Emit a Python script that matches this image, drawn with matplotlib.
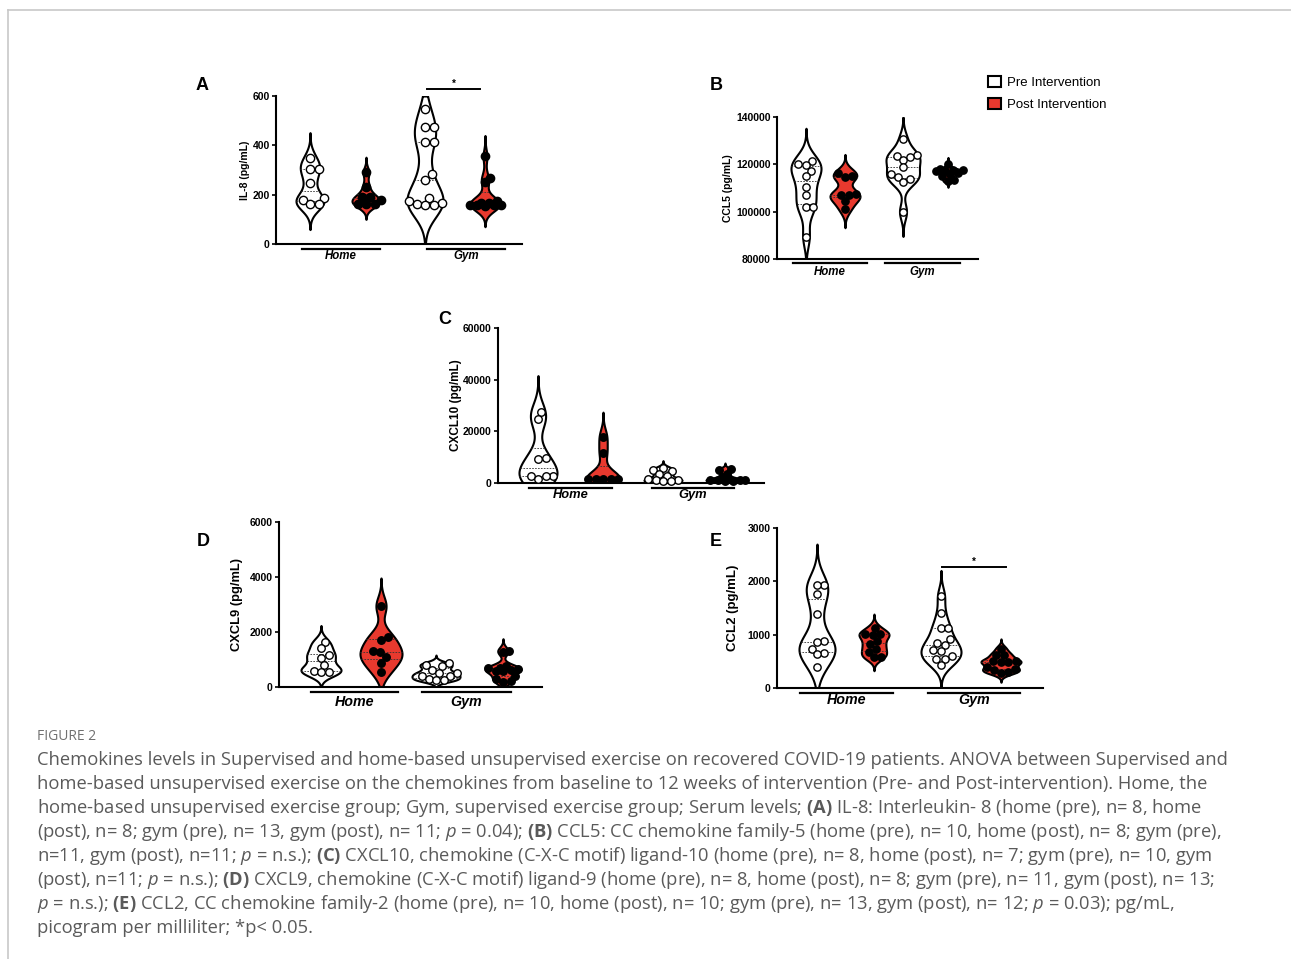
import numpy as np
import matplotlib.pyplot as plt
import matplotlib.transforms as mtransforms
from matplotlib.patches import Patch
from matplotlib.lines import Line2D

plt.rcParams['font.family'] = ['Liberation Sans', 'DejaVu Sans']
plt.rcParams['mathtext.fontset'] = 'custom'
plt.rcParams['mathtext.rm'] = 'Open Sans'
plt.rcParams['mathtext.it'] = 'Open Sans:italic'
plt.rcParams['mathtext.bf'] = 'Open Sans:bold'

W, H = 1291, 959
RED = '#e8392e'

groups = ['Home', 'Gym']
conditions = ['Pre Intervention', 'Post Intervention']

# A: IL-8 (pg/mL)
il8_home_pre = [348, 305, 305, 248, 185, 179, 162, 162]
il8_home_post = [290, 233, 192, 190, 180, 162, 162, 162]
il8_gym_pre = [546, 474, 474, 413, 413, 282, 260, 187, 173, 165, 162, 160, 160]
il8_gym_post = [355, 267, 250, 175, 165, 165, 160, 160, 160, 158, 155]
il8_ticks = [0, 200, 400, 600]

# B: CCL5 (pg/mL)
ccl5_home_pre = [121500, 120000, 119900, 117300, 115000, 110500, 107000, 101900, 101900, 89500]
ccl5_home_post = [116400, 115000, 114800, 107500, 107000, 107000, 104300, 101000]
ccl5_gym_pre = [130500, 123900, 123700, 122900, 122000, 118700, 115900, 114800, 114000, 112700, 100000]
ccl5_gym_post = [120200, 118000, 117600, 117400, 117200, 117000, 116500, 116000, 115000, 113400, 113000]
ccl5_ticks = [80000, 100000, 120000, 140000]

# C: CXCL10 (pg/mL)
cxcl10_home_pre = [27300, 24600, 9700, 9200, 2700, 2700, 2700, 1700]
cxcl10_home_post = [17900, 11700, 1700, 1600, 1600, 1500, 1500]
cxcl10_gym_pre = [6000, 5000, 4800, 3500, 2800, 1500, 1200, 1000, 800, 600]
cxcl10_gym_post = [5500, 5000, 3500, 2500, 1500, 1200, 1200, 1000, 1000, 900, 800]
cxcl10_ticks = [0, 20000, 40000, 60000]

# D: CXCL9 (pg/mL)
cxcl9_home_pre = [1650, 1410, 1150, 1070, 785, 600, 540, 530]
cxcl9_home_post = [2945, 1835, 1714, 1300, 1255, 1086, 869, 555]
cxcl9_gym_pre = [870, 810, 750, 630, 510, 500, 410, 390, 300, 250, 240]
cxcl9_gym_post = [1316, 1290, 750, 700, 680, 650, 630, 600, 570, 390, 300, 210, 200]
cxcl9_ticks = [0, 2000, 4000, 6000]

# E: CCL2 (pg/mL)
ccl2_home_pre = [1930, 1925, 1760, 1380, 880, 860, 740, 665, 630, 395]
ccl2_home_post = [1130, 1010, 1010, 1000, 880, 820, 740, 680, 590, 580]
ccl2_gym_pre = [1730, 1400, 1130, 1130, 916, 835, 810, 709, 690, 600, 540, 540, 427]
ccl2_gym_post = [740, 628, 615, 502, 502, 490, 490, 395, 364, 333, 301, 289]
ccl2_ticks = [0, 1000, 2000, 3000]

# figure layout in pixels
panels = [
    dict(letter='A', lxy=(202, 85), ylabel='IL-8 (pg/mL)', labx=245, labfs=7.5,
         data=[il8_home_pre, il8_home_post, il8_gym_pre, il8_gym_post], ticks=il8_ticks,
         box=(276, 96, 522, 244), pos=[34, 90, 149, 209], width=[14, 14, 18, 15], dot=8.3,
         glines=[(26, 104), (151, 229)], gy=249, gty=256, gfs=8.3, sig=(151, 204, 89)),
    dict(letter='B', lxy=(716, 86), ylabel='CCL5 (pg/mL)', labx=728, labfs=7.5,
         data=[ccl5_home_pre, ccl5_home_post, ccl5_gym_pre, ccl5_gym_post], ticks=ccl5_ticks,
         box=(777, 117, 978, 259), pos=[29, 68, 126, 171], width=[15, 15, 17, 14], dot=7.3,
         glines=[(16, 90), (108, 183)], gy=263, gty=272, gfs=8.3, sig=None),
    dict(letter='C', lxy=(445, 320), ylabel='CXCL10 (pg/mL)', labx=456, labfs=8.5,
         data=[cxcl10_home_pre, cxcl10_home_post, cxcl10_gym_pre, cxcl10_gym_post], ticks=cxcl10_ticks,
         box=(498, 328, 764, 483), pos=[40, 105, 165, 227], width=[19, 17, 19, 19], dot=7.5,
         glines=[(31, 114), (154, 236)], gy=488, gty=495, gfs=9.3, sig=None),
    dict(letter='D', lxy=(203, 541), ylabel='CXCL9 (pg/mL)', labx=237, labfs=9.3,
         data=[cxcl9_home_pre, cxcl9_home_post, cxcl9_gym_pre, cxcl9_gym_post], ticks=cxcl9_ticks,
         box=(279, 522, 542, 687), pos=[42, 102, 157, 224], width=[20, 21, 24, 18], dot=7.5,
         glines=[(32, 119), (143, 232)], gy=692, gty=702, gfs=10.3, sig=None),
    dict(letter='E', lxy=(716, 541), ylabel='CCL2 (pg/mL)', labx=733, labfs=9.5,
         data=[ccl2_home_pre, ccl2_home_post, ccl2_gym_pre, ccl2_gym_post], ticks=ccl2_ticks,
         box=(777, 528, 1043, 688), pos=[40, 97, 164, 224], width=[18, 15, 20, 20], dot=7.3,
         glines=[(23, 116), (151, 243)], gy=693, gty=700, gfs=10.3, sig=(165, 229, 567)),
]

caption = [
    "Chemokines levels in Supervised and home-based unsupervised exercise on recovered COVID-19 patients. ANOVA between Supervised and",
    "home-based unsupervised exercise on the chemokines from baseline to 12 weeks of intervention (Pre- and Post-intervention). Home, the",
    "home-based unsupervised exercise group; Gym, supervised exercise group; Serum levels; $\\mathbf{(A)}$ IL-8: Interleukin- 8 (home (pre), n= 8, home",
    "(post), n= 8; gym (pre), n= 13, gym (post), n= 11; $\\mathit{p}$ = 0.04); $\\mathbf{(B)}$ CCL5: CC chemokine family-5 (home (pre), n= 10, home (post), n= 8; gym (pre),",
    "n=11, gym (post), n=11; $\\mathit{p}$ = n.s.); $\\mathbf{(C)}$ CXCL10, chemokine (C-X-C motif) ligand-10 (home (pre), n= 8, home (post), n= 7; gym (pre), n= 10, gym",
    "(post), n=11; $\\mathit{p}$ = n.s.); $\\mathbf{(D)}$ CXCL9, chemokine (C-X-C motif) ligand-9 (home (pre), n= 8, home (post), n= 8; gym (pre), n= 11, gym (post), n= 13;",
    "$\\mathit{p}$ = n.s.); $\\mathbf{(E)}$ CCL2, CC chemokine family-2 (home (pre), n= 10, home (post), n= 10; gym (pre), n= 13, gym (post), n= 12; $\\mathit{p}$ = 0.03); pg/mL,",
    "picogram per milliliter; *p< 0.05.",
]


def px_rect(l, t, r, b):
    return [l / W, 1 - b / H, (r - l) / W, (b - t) / H]


# gaussian kde, tails cut at the axis limits
def kde(vals, lo, hi, bw=0.7, cut=3.0):
    v = np.asarray(vals, float)
    h = bw * v.std(ddof=1) * len(v) ** -0.2
    y = np.linspace(max(lo, v.min() - cut * h), min(hi, v.max() + cut * h), 400)
    d = np.exp(-0.5 * ((y[:, None] - v[None, :]) / h) ** 2).sum(axis=1)
    return y, d / d.max()


# beeswarm in pixels; points stay inside the violin and overlap when crowded
def swarm(vals, scale, diam, limits):
    ys = np.asarray(vals, float) * scale
    xs = np.zeros(len(ys))
    done = []
    for i in np.argsort(ys):
        lim = max(limits[i], 1.0)
        cand = [0.0]
        for k in np.arange(0.5, lim + 0.01, 0.5):
            cand += [k, -k]
        best, best_d = 0.0, -1.0
        for c in cand:
            dmin = min([np.hypot(c - x, ys[i] - y) for x, y in done] + [1e9])
            if dmin >= diam:
                best = c
                break
            if dmin > best_d + 0.01:
                best, best_d = c, dmin
        xs[i] = best
        done.append((best, ys[i]))
    return xs


fig = plt.figure(figsize=(W / 100, H / 100), dpi=100)

for p in panels:
    l, t, r, b = p['box']
    ax = fig.add_axes(px_rect(l, t, r, b))
    lo, hi = p['ticks'][0], p['ticks'][-1]
    ax.set_xlim(0, r - l)
    ax.set_ylim(lo, hi)
    scale = (b - t) / (hi - lo)
    trans = mtransforms.blended_transform_factory(ax.transData, ax.transAxes)

    for k, vals in enumerate(p['data']):
        pos = p['pos'][k]
        pre = k % 2 == 0
        y, d = kde(vals, lo, hi)
        w = p['width'][k] * d
        ax.fill_betweenx(y, pos - w, pos + w, facecolor='white' if pre else RED,
                         edgecolor='black', lw=1.5, zorder=2)
        for q in np.percentile(vals, [25, 50, 75]):
            wq = np.interp(q, y, w)
            ax.plot([pos - wq, pos + wq], [q, q], color='#333333', lw=0.6,
                    ls=(0, (2, 1.5)), zorder=3)
        limits = np.interp(vals, y, w) + 1.0
        xs = swarm(vals, scale, p['dot'], limits)
        ax.scatter(pos + xs, vals, s=(p['dot'] * 0.72) ** 2,
                   facecolor='white' if pre else 'black', edgecolor='black',
                   lw=1.0, zorder=4, clip_on=False)

    for sp in ['top', 'right']:
        ax.spines[sp].set_visible(False)
    for sp in ['left', 'bottom']:
        ax.spines[sp].set_linewidth(1.5)
    ax.set_xticks([])
    ax.set_yticks(p['ticks'])
    ax.tick_params(axis='y', length=3, width=1.2, labelsize=7.5, pad=1.5)
    for lab in ax.get_yticklabels():
        lab.set_fontweight('bold')
    ax.set_ylabel(p['ylabel'], fontsize=p['labfs'], fontweight='bold')
    ax.yaxis.label.set_va('center')
    ax.yaxis.set_label_coords((p['labx'] - l) / (r - l), 0.5)

    gy = (b - p['gy']) / (b - t)
    gty = (b - p['gty']) / (b - t)
    for (x0, x1), name in zip(p['glines'], groups):
        ax.plot([x0, x1], [gy, gy], color='black', lw=1.6, transform=trans, clip_on=False)
        ax.text((x0 + x1) / 2, gty, name, transform=trans, ha='center', va='center',
                fontsize=p['gfs'], fontweight='bold', fontstyle='italic')

    if p['sig']:
        x0, x1, sy = p['sig']
        syf = (b - sy) / (b - t)
        ax.plot([x0, x1], [syf, syf], color='black', lw=1.4, transform=trans, clip_on=False)
        ax.text((x0 + x1) / 2, syf, '*', transform=trans, ha='center', va='bottom',
                fontsize=7, fontweight='bold')

    fig.text(p['lxy'][0] / W, 1 - p['lxy'][1] / H, p['letter'], fontsize=13,
             fontweight='bold', ha='center', va='center')

handles = [Patch(facecolor='white', edgecolor='black', lw=1.5),
           Patch(facecolor=RED, edgecolor='black', lw=1.5)]
fig.legend(handles, conditions, loc='upper left', bbox_to_anchor=(988 / W, 1 - 75.5 / H),
           frameon=False, fontsize=9.5, handlelength=0.95, handleheight=0.95,
           handletextpad=0.5, labelspacing=0.7, borderpad=0, borderaxespad=0)

# page frame
fig.add_artist(Line2D([7.5 / W, 1], [1 - 9.5 / H, 1 - 9.5 / H], color='#c8c8c8', lw=1.2))
fig.add_artist(Line2D([7.5 / W, 7.5 / W], [0, 1 - 9.5 / H], color='#c8c8c8', lw=1.2))

fig.text(37 / W, 1 - 737 / H, 'FIGURE 2', fontsize=10, color='#707070',
         family='Open Sans', va='center')
for i, line in enumerate(caption):
    fig.text(37 / W, 1 - (765 + 24 * i) / H, line, fontsize=13.2, color='#5a5a5a',
             family='Open Sans', va='baseline')

fig.savefig('out.png', dpi=100)
